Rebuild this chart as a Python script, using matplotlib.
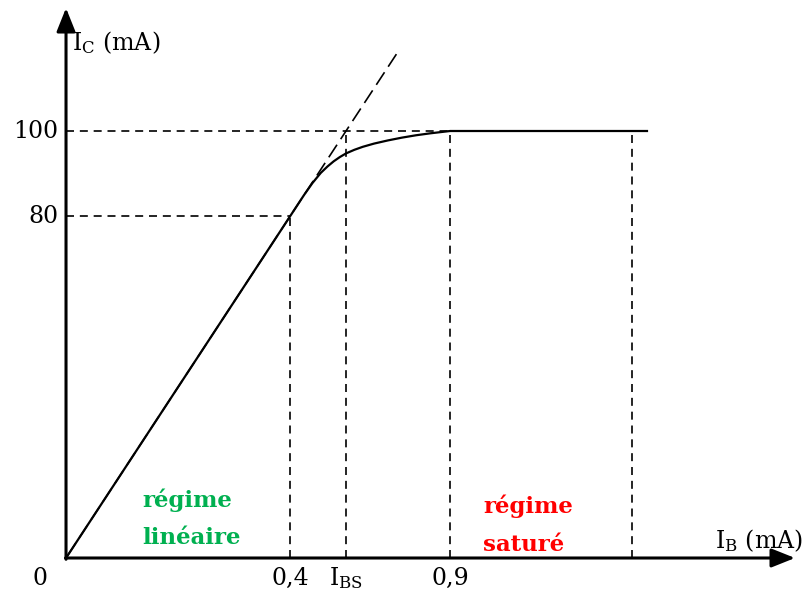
import matplotlib
matplotlib.use("Agg")
from matplotlib import pyplot as plt

plt.rcParams['font.family'] = 'DejaVu Serif'
plt.rcParams['mathtext.fontset'] = 'dejavuserif'

# schematic transfer curve Ic = f(Ib)
ib = [0, 0.40, 0.425, 0.44, 0.455, 0.467, 0.478, 0.489, 0.50, 0.515, 0.53,
      0.55, 0.575, 0.60, 0.625, 0.65, 0.686, 1.0375]
ic = [0, 80, 85, 87.8, 90.2, 91.7, 92.9, 93.9, 94.75, 95.6, 96.3,
      97.05, 97.8, 98.45, 99.0, 99.45, 100, 100]

beta = 80 / 0.4          # slope of the linear part
ib_bs = 100 / beta       # I_BS
ib_sat = 0.686           # drawn position of the "0,9" mark
ib_right = 1.011         # right limit of the saturated zone
tangent_end = 0.59

x_ticks = [0.4, ib_bs, ib_sat]
x_labels = ['0,4', r'I$_{\rm BS}$', '0,9']
y_ticks = [80, 100]
y_labels = ['80', '100']

fig = plt.figure(figsize=(8.1, 5.93), dpi=100)
ax = fig.add_axes([0, 0, 1, 1])
ax.set_xlim(-0.1179, 1.3286)
ax.set_ylim(-8.197, 130.68)
ax.axis('off')

dash = (0, (4.8, 3.5))

# guide lines
ax.plot([0, 0.4], [80, 80], color='k', lw=1.2, ls=dash)
ax.plot([0.4, 0.4], [0, 80], color='k', lw=1.2, ls=dash)
ax.plot([0, ib_sat], [100, 100], color='k', lw=1.2, ls=dash)
ax.plot([ib_bs, ib_bs], [0, 100], color='k', lw=1.2, ls=dash)
ax.plot([ib_sat, ib_sat], [0, 100], color='k', lw=1.2, ls=dash)
ax.plot([ib_right, ib_right], [0, 100], color='k', lw=1.2, ls=dash)

# tangent of the linear regime
ax.plot([tangent_end, 0], [beta * tangent_end, 0], color='k', lw=1.2, ls=(0, (9, 4)))

# the curve
ax.plot(ib, ic, color='k', lw=1.6, solid_joinstyle='round')

# axes with arrows
arr = dict(arrowstyle='-|>,head_length=0.55,head_width=0.22', mutation_scale=26,
           lw=2.2, color='k', shrinkA=0, shrinkB=0)
ax.annotate('', xy=(1.3018, 0), xytext=(-0.001, 0), arrowprops=arr)
ax.annotate('', xy=(0, 128.8), xytext=(0, -0.3), arrowprops=arr)

fs = 17
for x, lab in zip(x_ticks, x_labels):
    ax.text(x, -4.7, lab, ha='center', va='center', fontsize=fs)
ax.text(-0.046, -4.7, '0', ha='center', va='center', fontsize=fs)
for y, lab in zip(y_ticks, y_labels):
    ax.text(-0.0143, y, lab, ha='right', va='center', fontsize=fs)

ax.text(0.0107, 120.8, r'I$_{\rm C}$ (mA)', ha='left', va='center', fontsize=fs)
ax.text(1.316, 4.0, r'I$_{\rm B}$ (mA)', ha='right', va='center', fontsize=fs)

green = '#00B050'
red = '#FF0000'
ax.text(0.1357, 13.6, 'régime', color=green, fontweight='bold', fontsize=16.5, ha='left', va='center')
ax.text(0.1357, 4.7, 'linéaire', color=green, fontweight='bold', fontsize=16.5, ha='left', va='center')
ax.text(0.7446, 12.2, 'régime', color=red, fontweight='bold', fontsize=16.5, ha='left', va='center')
ax.text(0.7446, 3.0, 'saturé', color=red, fontweight='bold', fontsize=16.5, ha='left', va='center')

fig.savefig('out.png', dpi=100)
